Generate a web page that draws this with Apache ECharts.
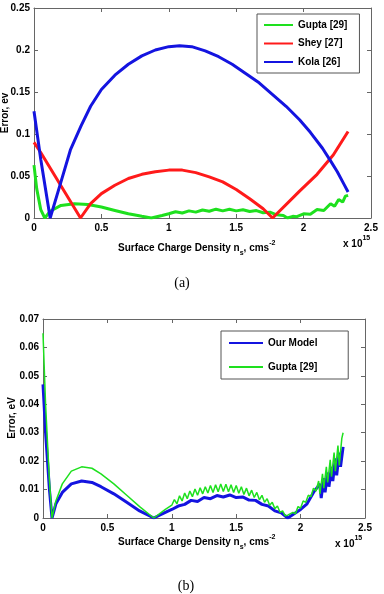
<!DOCTYPE html>
<html>
<head>
<meta charset="utf-8">
<script src="https://cdn.jsdelivr.net/npm/echarts@6/dist/echarts.min.js"></script>
<style>
    html, body {margin: 0; padding: 0; background: #fff;}
    #chart {width: 384px; height: 594px;}
</style>
</head>
<body>
<div id="chart"></div>
<script>
// (a) errors vs surface charge density (x in units of 1e15)
let guptaAX = [0, 0.02, 0.05, 0.08, 0.12, 0.2, 0.3, 0.4, 0.5, 0.6, 0.7, 0.8, 0.87, 0.95, 1.0, 1.05, 1.1, 1.15, 1.2, 1.25, 1.3, 1.35, 1.4, 1.45, 1.5, 1.55, 1.6, 1.65, 1.7, 1.75, 1.8, 1.85, 1.88, 1.92, 1.95, 2.0, 2.05, 2.1, 2.15, 2.2, 2.23, 2.26, 2.29, 2.31, 2.33];
let guptaAY = [0.063, 0.035, 0.01, 0, 0.008, 0.015, 0.017, 0.016, 0.013, 0.009, 0.005, 0.002, 0, 0.003, 0.005, 0.0075, 0.006, 0.0085, 0.007, 0.0095, 0.008, 0.0105, 0.0085, 0.0105, 0.0085, 0.0098, 0.0078, 0.0088, 0.0062, 0.007, 0.0038, 0.003, 0, 0.002, 0.0015, 0.005, 0.0045, 0.01, 0.009, 0.017, 0.014, 0.022, 0.019, 0.026, 0.027];

let sheyX = [0, 0.05, 0.345, 0.42, 0.5, 0.6, 0.7, 0.8, 0.9, 1.0, 1.1, 1.2, 1.3, 1.4, 1.5, 1.6, 1.7, 1.77, 1.97, 2.1, 2.22, 2.33];
let sheyY = [0.09, 0.078, 0, 0.017, 0.029, 0.039, 0.047, 0.052, 0.055, 0.057, 0.057, 0.054, 0.049, 0.043, 0.034, 0.023, 0.011, 0, 0.032, 0.052, 0.075, 0.103];

let kolaX = [0, 0.05, 0.12, 0.2, 0.27, 0.35, 0.42, 0.5, 0.6, 0.7, 0.8, 0.9, 1.0, 1.08, 1.17, 1.27, 1.37, 1.47, 1.57, 1.67, 1.77, 1.87, 1.97, 2.05, 2.14, 2.2, 2.25, 2.3, 2.33];
let kolaY = [0.127, 0.07, 0, 0.043, 0.081, 0.11, 0.133, 0.153, 0.17, 0.183, 0.193, 0.2, 0.204, 0.205, 0.204, 0.199, 0.192, 0.183, 0.172, 0.161, 0.147, 0.133, 0.117, 0.102, 0.083, 0.068, 0.055, 0.04, 0.031];

// (b) our model vs Gupta
let modelX = [0, 0.02, 0.05, 0.07, 0.1, 0.15, 0.22, 0.3, 0.38, 0.45, 0.55, 0.65, 0.75, 0.86, 0.95, 1.0, 1.05, 1.1, 1.15, 1.2, 1.25, 1.3, 1.35, 1.4, 1.45, 1.5, 1.55, 1.6, 1.65, 1.7, 1.75, 1.8, 1.85, 1.9, 1.95, 2.0, 2.05, 2.1, 2.15, 2.16, 2.18, 2.19, 2.21, 2.22, 2.24, 2.25, 2.27, 2.28, 2.3, 2.31, 2.33];
let modelY = [0.047, 0.03, 0.01, 0, 0.005, 0.009, 0.012, 0.013, 0.0125, 0.011, 0.0085, 0.0055, 0.0025, 0, 0.002, 0.003, 0.0042, 0.0048, 0.0062, 0.0058, 0.0072, 0.0068, 0.0079, 0.0074, 0.0081, 0.0072, 0.0074, 0.0063, 0.0062, 0.0048, 0.0042, 0.0025, 0.0018, 0, 0.0015, 0.003, 0.005, 0.009, 0.012, 0.007, 0.014, 0.009, 0.016, 0.011, 0.018, 0.013, 0.021, 0.015, 0.023, 0.018, 0.025];

let guptaBX = [0, 0.02, 0.05, 0.07, 0.1, 0.15, 0.22, 0.3, 0.38, 0.45, 0.55, 0.65, 0.75, 0.86, 0.95, 1.0, 1.02, 1.04, 1.06, 1.08, 1.1, 1.12, 1.14, 1.16, 1.18, 1.2, 1.22, 1.24, 1.26, 1.28, 1.3, 1.32, 1.34, 1.36, 1.38, 1.4, 1.42, 1.44, 1.46, 1.48, 1.5, 1.52, 1.54, 1.56, 1.58, 1.6, 1.62, 1.64, 1.66, 1.68, 1.7, 1.72, 1.74, 1.76, 1.78, 1.8, 1.82, 1.84, 1.86, 1.88, 1.9, 1.94, 1.96, 1.98, 2.0, 2.02, 2.04, 2.06, 2.08, 2.1, 2.12, 2.14, 2.15, 2.17, 2.18, 2.2, 2.21, 2.23, 2.24, 2.26, 2.27, 2.29, 2.3, 2.32, 2.33];
let guptaBY = [0.065, 0.04, 0.013, 0, 0.006, 0.012, 0.0165, 0.018, 0.0175, 0.0155, 0.012, 0.008, 0.004, 0, 0.003, 0.0045, 0.0065, 0.005, 0.0078, 0.006, 0.0088, 0.0068, 0.0095, 0.0075, 0.0102, 0.008, 0.0106, 0.0085, 0.011, 0.0088, 0.0114, 0.009, 0.0117, 0.0092, 0.012, 0.0093, 0.0119, 0.0092, 0.0117, 0.009, 0.0114, 0.0087, 0.011, 0.0083, 0.0105, 0.0078, 0.0098, 0.0072, 0.009, 0.0064, 0.008, 0.0055, 0.0068, 0.0045, 0.0055, 0.0033, 0.0042, 0.002, 0.0025, 0.0008, 0.001, 0.002, 0.0015, 0.004, 0.0035, 0.006, 0.0055, 0.008, 0.0075, 0.0105, 0.0095, 0.013, 0.0085, 0.0155, 0.0105, 0.018, 0.0125, 0.0205, 0.0145, 0.023, 0.0165, 0.0255, 0.0185, 0.028, 0.03];

function zip(xs, ys) {
    return xs.map(function (x, i) {
        return [x, ys[i]];
    });
}

let font = 'Liberation Sans, Arial, sans-serif';
let axisColor = '#666';
let GREEN = '#1ee01e', RED = '#ff1a1a', BLUE = '#1414e0';

function xAx(grid, pos) {
    return {
        gridIndex: grid, type: 'value', position: pos, min: 0, max: 2.5, interval: 0.5,
        axisLine: {show: true, onZero: false, lineStyle: {color: axisColor}},
        axisTick: {show: true, inside: true, length: 4, lineStyle: {color: axisColor}},
        axisLabel: {show: pos === 'bottom', color: '#000', fontWeight: 'bold', fontSize: 10, fontFamily: font, margin: 5},
        splitLine: {show: false}
    };
}

function yAx(grid, pos, max, interval) {
    return {
        gridIndex: grid, type: 'value', position: pos, min: 0, max: max, interval: interval,
        axisLine: {show: true, onZero: false, lineStyle: {color: axisColor}},
        axisTick: {show: true, inside: true, length: 4, lineStyle: {color: axisColor}},
        axisLabel: {show: pos === 'left', color: '#000', fontWeight: 'bold', fontSize: 10, fontFamily: font, margin: 4},
        splitLine: {show: false}
    };
}

function mkRich(lh) {
    return {
        m: {fontSize: 10, fontWeight: 'bold', fontFamily: font, color: '#000', lineHeight: lh, verticalAlign: 'middle'},
        sub: {fontSize: 7, fontWeight: 'bold', fontFamily: font, color: '#000', lineHeight: lh, verticalAlign: 'bottom'},
        sup: {fontSize: 7, fontWeight: 'bold', fontFamily: font, color: '#000', lineHeight: lh, verticalAlign: 'top'}
    };
}

function label(x, y, text, rot, rich) {
    return {
        type: 'text', x: x, y: y, rotation: rot || 0,
        style: {
            text: text, rich: rich, align: rich ? 'left' : 'center', verticalAlign: 'middle',
            font: 'bold 10px ' + font, fill: '#000'
        }
    };
}

function line(name, data, color, width, xi, yi) {
    return {
        name: name, type: 'line', data: data, xAxisIndex: xi, yAxisIndex: yi,
        showSymbol: false, symbol: 'none', animation: false,
        lineStyle: {color: color, width: width}, itemStyle: {color: color}
    };
}

function legendBox(names, left, top, itemWidth, itemGap, padding) {
    return {
        data: names,
        orient: 'vertical', left: left, top: top,
        itemWidth: itemWidth, itemHeight: 10, itemGap: itemGap,
        padding: padding,
        itemStyle: {opacity: 0},
        borderColor: '#555', borderWidth: 1, backgroundColor: '#fff',
        textStyle: {fontWeight: 'bold', fontSize: 10, fontFamily: font, color: '#000'}
    };
}

let chart = echarts.init(document.getElementById('chart'));

let xName = '{m|Surface Charge Density n}{sub|s}{m|, cms}{sup|-2}';
let xScale = '{m|x 10}{sup|15}';

let option = {
    animation: false,
    backgroundColor: '#fff',
    grid: [
        {left: 34, top: 8, width: 337, height: 210},
        {left: 43, top: 319, width: 322, height: 199}
    ],
    xAxis: [xAx(0, 'bottom'), xAx(0, 'top'), xAx(1, 'bottom'), xAx(1, 'top')],
    yAxis: [yAx(0, 'left', 0.25, 0.05), yAx(0, 'right', 0.25, 0.05), yAx(1, 'left', 0.07, 0.01), yAx(1, 'right', 0.07, 0.01)],
    legend: [
        legendBox(['Gupta [29]', 'Shey [27]', 'Kola [26]'], 257, 14, 29, 8.5, [6, 12, 6, 6]),
        legendBox(['Our Model', 'Gupta [29] '], 221, 331, 34, 14, [7, 28, 7, 7])
    ],
    series: [
        line('Gupta [29]', zip(guptaAX, guptaAY), GREEN, 3, 0, 0),
        line('Shey [27]', zip(sheyX, sheyY), RED, 3, 0, 0),
        line('Kola [26]', zip(kolaX, kolaY), BLUE, 3, 0, 0),
        line('Our Model', zip(modelX, modelY), BLUE, 3, 2, 2),
        line('Gupta [29] ', zip(guptaBX, guptaBY), GREEN, 1.5, 2, 2)
    ],
    graphic: [
        label(118, 248, xName, 0, mkRich(17)),
        label(343, 244, xScale, 0, mkRich(18)),
        label(5, 113, 'Error, ev', Math.PI / 2),
        label(118, 542, xName, 0, mkRich(17)),
        label(335, 544, xScale, 0, mkRich(18)),
        label(12, 418, 'Error, eV', Math.PI / 2),
        {type: 'text', x: 182, y: 283, style: {text: '(a)', font: '14px Liberation Serif, serif', fill: '#000', align: 'center', verticalAlign: 'middle'}},
        {type: 'text', x: 186, y: 586, style: {text: '(b)', font: '14px Liberation Serif, serif', fill: '#000', align: 'center', verticalAlign: 'middle'}}
    ]
};

chart.setOption(option);
</script>
</body>
</html>
